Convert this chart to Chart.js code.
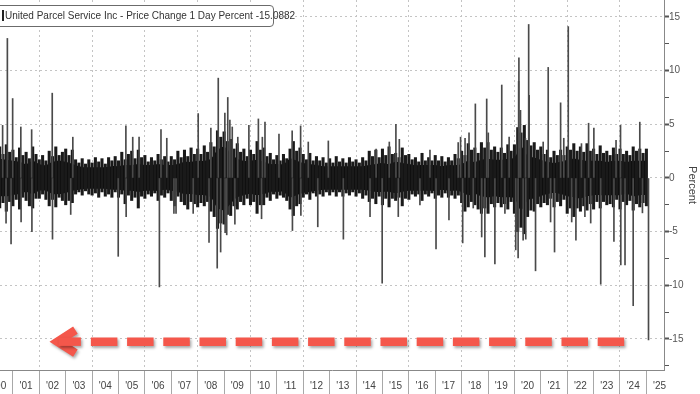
<!DOCTYPE html>
<html>
<head>
<meta charset="utf-8">
<script src="https://cdn.jsdelivr.net/npm/chart.js@4.4.1/dist/chart.umd.min.js"></script>
<style>
  html, body { margin: 0; padding: 0; background: #fff; }
  #wrap { position: relative; width: 700px; height: 394px; overflow: hidden; }
  #legend-box {
    position: absolute; left: -5px; top: 5px; width: 279px; height: 22px;
    box-sizing: border-box; border: 1px solid #6b6b6b; border-radius: 4px;
    background: #fff; color: #333; white-space: nowrap;
    font: 10px "Liberation Sans", Arial, sans-serif; line-height: 20px; padding-left: 6px;
  }
  #legend-box .swatch { display: inline-block; width: 2px; height: 11px; background: #222; vertical-align: -2px; margin-right: 1px; }
</style>
</head>
<body>
<div id="wrap">
  <canvas id="chart" width="700" height="394"></canvas>
  <div id="legend-box"><span class="swatch"></span>United Parcel Service Inc - Price Change 1 Day Percent -15.0882</div>
</div>
<script>
// ---- data ----
// year labels on the bottom axis
const yearLabels = ["'00", "'01", "'02", "'03", "'04", "'05", "'06", "'07", "'08", "'09", "'10", "'11", "'12",
    "'13", "'14", "'15", "'16", "'17", "'18", "'19", "'20", "'21", "'22", "'23", "'24", "'25"];
const yTicks = [-17.5, -15, -12.5, -10, -7.5, -5, -2.5, 0, 2.5, 5, 7.5, 10, 12.5, 15];
const yMajor = [-15, -10, -5, 0, 5, 10, 15];

// dense band: upper / lower edge of the daily moves, one slot every 1/8 year from mid 2000
const slotStart = 2000.5;
const slotStep = 0.125;
const fringeHigh = [
    2.9, 2.2, 3.1, 2.4,
    2.6, 1.9, 2.8, 2.1, 2.4, 1.8, 2.9, 2.2,   // 2001
    1.7, 2.1, 1.6, 2.5, 2.0, 2.9, 2.1, 2.4,   // 2002
    2.7, 2.1, 2.6, 1.7, 1.4, 1.8, 1.3, 1.7,   // 2003
    1.4, 1.9, 1.5, 1.8, 1.3, 1.9, 1.6, 2.0,   // 2004
    1.6, 2.4, 1.7, 2.2, 2.5, 1.8, 2.6, 1.9,   // 2005
    2.1, 1.5, 1.9, 1.6, 2.2, 1.7, 2.0, 1.5,   // 2006
    2.0, 1.7, 2.5, 1.9, 2.6, 2.0, 2.8, 2.2,   // 2007
    2.7, 2.2, 3.0, 2.4, 3.3, 2.9, 4.4, 3.8,   // 2008
    4.3, 3.4, 3.6, 2.7, 3.2, 2.4, 2.7, 2.0,   // 2009
    2.6, 2.2, 3.4, 2.6, 2.8, 2.0, 2.3, 1.7,   // 2010
    2.1, 1.6, 2.2, 1.8, 2.7, 3.4, 2.5, 2.8,   // 2011
    2.2, 1.7, 2.3, 1.6, 2.0, 1.6, 1.9, 1.4,   // 2012
    1.8, 1.4, 2.0, 1.5, 1.8, 1.4, 1.9, 1.5,   // 2013
    1.7, 1.4, 1.9, 1.6, 2.5, 2.0, 2.6, 1.9,   // 2014
    2.7, 2.1, 2.9, 2.2, 2.3, 1.9, 2.8, 2.1,   // 2015
    2.2, 1.7, 1.9, 1.5, 2.3, 1.6, 1.9, 1.6,   // 2016
    2.1, 1.6, 2.0, 1.5, 1.9, 1.6, 2.2, 1.8,   // 2017
    2.5, 2.1, 3.2, 2.6, 2.8, 2.3, 3.3, 2.8,   // 2018
    3.3, 2.6, 2.9, 2.4, 2.8, 2.3, 3.1, 2.5,   // 2019
    3.1, 4.7, 4.2, 4.9, 3.5, 3.0, 3.3, 2.6,   // 2020
    2.9, 2.2, 2.6, 1.9, 2.5, 2.1, 2.6, 2.1,   // 2021
    2.9, 2.6, 3.2, 2.5, 2.9, 2.4, 3.2, 2.5,   // 2022
    2.7, 2.2, 3.0, 2.3, 2.5, 2.1, 2.8, 2.2,   // 2023
    2.7, 2.2, 2.5, 2.1, 2.9, 2.5, 2.7, 2.3,   // 2024
    2.7
];
const fringeLow = [
    -2.8, -2.3, -3.1, -2.2,
    -2.6, -2.0, -2.9, -1.8, -2.1, -2.6, -2.8, -1.9,   // 2001
    -1.9, -1.5, -2.0, -2.6, -2.0, -2.7, -1.8, -2.1,   // 2002
    -2.5, -2.1, -2.3, -1.5, -1.3, -1.6, -1.2, -1.5,   // 2003
    -1.6, -1.4, -1.8, -1.3, -1.7, -1.5, -1.8, -1.3,   // 2004
    -1.8, -1.5, -2.4, -1.6, -2.1, -1.8, -2.8, -1.7,   // 2005
    -1.9, -1.5, -1.7, -1.4, -2.1, -1.6, -1.8, -1.4,   // 2006
    -2.1, -2.6, -1.7, -2.2, -2.5, -2.9, -2.2, -2.4,   // 2007
    -2.7, -2.3, -2.6, -2.2, -3.1, -3.6, -4.7, -4.2,   // 2008
    -4.3, -3.4, -3.5, -2.6, -2.9, -2.2, -2.5, -1.9,   // 2009
    -2.5, -2.2, -3.3, -2.5, -2.5, -1.8, -2.1, -1.5,   // 2010
    -1.9, -1.6, -1.8, -2.1, -2.9, -3.5, -2.6, -2.4,   // 2011
    -1.8, -1.5, -2.0, -1.4, -1.7, -1.5, -1.7, -1.3,   // 2012
    -1.6, -1.3, -1.7, -1.3, -1.7, -1.4, -1.6, -1.3,   // 2013
    -1.7, -1.4, -1.9, -1.6, -2.2, -1.9, -2.4, -1.7,   // 2014
    -2.5, -1.9, -2.7, -1.9, -2.1, -1.8, -2.6, -1.9,   // 2015
    -2.0, -1.5, -1.7, -1.5, -2.1, -1.5, -1.7, -1.4,   // 2016
    -1.9, -1.6, -1.8, -1.4, -1.8, -1.6, -1.9, -1.6,   // 2017
    -2.3, -3.1, -2.7, -2.2, -2.5, -2.9, -3.3, -2.8,   // 2018
    -3.3, -2.4, -2.7, -2.3, -2.7, -2.4, -2.9, -2.2,   // 2019
    -3.3, -5.0, -4.6, -5.2, -3.6, -3.0, -3.1, -2.4,   // 2020
    -2.7, -2.3, -2.5, -1.9, -2.7, -2.2, -2.6, -2.0,   // 2021
    -3.3, -2.8, -3.6, -2.8, -3.1, -2.6, -3.0, -2.4,   // 2022
    -2.9, -2.2, -2.8, -2.2, -2.5, -2.4, -2.7, -2.0,   // 2023
    -2.9, -2.2, -2.5, -2.1, -3.0, -2.4, -2.7, -2.3,   // 2024
    -2.6
];

// solid core of the band, one point every quarter year from mid 2000
const coreStart = 2000.5;
const coreStep = 0.25;
const coreHigh = [
    1.8, 1.7,
    1.6, 1.5, 1.3, 1.6,  1.3, 1.2, 1.5, 1.6,  1.5, 1.3, 1.1, 1.0,  1.0, 1.0, 1.0, 1.1,   // 01-04
    1.1, 1.2, 1.2, 1.3,  1.2, 1.2, 1.3, 1.2,  1.2, 1.3, 1.5, 1.5,  1.6, 1.6, 1.8, 2.6,   // 05-08
    2.9, 2.3, 1.8, 1.6,  1.6, 1.7, 1.5, 1.3,  1.3, 1.3, 1.8, 1.6,  1.4, 1.3, 1.2, 1.1,   // 09-12
    1.1, 1.1, 1.1, 1.1,  1.1, 1.1, 1.2, 1.3,  1.4, 1.3, 1.5, 1.4,  1.3, 1.2, 1.2, 1.2,   // 13-16
    1.2, 1.1, 1.2, 1.2,  1.3, 1.6, 1.5, 1.7,  1.8, 1.7, 1.7, 1.8,  1.9, 2.9, 2.1, 1.9,   // 17-20
    1.7, 1.5, 1.4, 1.5,  1.7, 1.8, 1.7, 1.6,  1.6, 1.6, 1.5, 1.6,  1.6, 1.5, 1.6, 1.6,   // 21-24
    1.6
];
const coreLow = [
    -1.7, -1.7,
    -1.6, -1.5, -1.3, -1.5,  -1.2, -1.2, -1.5, -1.5,  -1.4, -1.2, -1.1, -1.0,  -1.0, -1.0, -1.0, -1.1,
    -1.1, -1.2, -1.2, -1.3,  -1.2, -1.2, -1.2, -1.1,  -1.2, -1.3, -1.5, -1.5,  -1.6, -1.6, -1.8, -2.8,
    -3.0, -2.4, -1.8, -1.6,  -1.5, -1.6, -1.5, -1.3,  -1.3, -1.3, -1.8, -1.6,  -1.4, -1.3, -1.2, -1.1,
    -1.1, -1.1, -1.1, -1.1,  -1.1, -1.1, -1.2, -1.3,  -1.3, -1.3, -1.4, -1.3,  -1.2, -1.2, -1.2, -1.2,
    -1.2, -1.1, -1.2, -1.2,  -1.3, -1.6, -1.5, -1.7,  -1.8, -1.7, -1.8, -1.8,  -1.9, -3.0, -2.1, -1.9,
    -1.7, -1.5, -1.4, -1.5,  -1.7, -1.8, -1.9, -1.7,  -1.6, -1.6, -1.6, -1.6,  -1.6, -1.5, -1.7, -1.6,
    -1.6
];

// single big days that stick out of the band
const spikeDates = [
    2000.61, 2000.74, 2000.79, 2000.93, 2000.99, 2001.30, 2001.31, 2001.71, 2001.72, 2002.49,
    2002.50, 2003.19, 2003.27, 2004.99, 2005.28, 2005.29, 2005.54, 2005.78, 2006.55, 2006.61,
    2006.83, 2007.10, 2007.18, 2007.83, 2008.02, 2008.43, 2008.50, 2008.74, 2008.78, 2008.87,
    2009.03, 2009.04, 2009.10, 2009.14, 2009.22, 2009.31, 2009.41, 2009.52, 2009.94, 2010.30,
    2010.42, 2010.45, 2010.55, 2011.08, 2011.58, 2011.59, 2011.90, 2011.91, 2012.19, 2012.55,
    2012.95, 2013.52, 2014.53, 2014.76, 2014.99, 2015.26, 2015.51, 2015.60, 2015.64, 2016.42,
    2016.80, 2017.03, 2017.52, 2017.87, 2017.96, 2018.04, 2018.13, 2018.28, 2018.44, 2018.52,
    2018.76, 2018.88, 2018.95, 2019.01, 2019.26, 2019.52, 2019.64, 2019.80, 2020.05, 2020.14,
    2020.16, 2020.17, 2020.23, 2020.33, 2020.42, 2020.43, 2020.54, 2020.56, 2020.80, 2021.09,
    2021.28, 2021.37, 2021.52, 2021.75, 2021.87, 2022.04, 2022.17, 2022.33, 2022.54, 2022.67,
    2022.81, 2022.89, 2023.01, 2023.27, 2023.77, 2023.85, 2024.02, 2024.03, 2024.19, 2024.50,
    2024.75, 2024.85, 2025.08
];
const spikeValues = [
    4.9, -4.2, 13.0, -6.15, 7.4, 4.75, -4.1, 4.5, -5.0, 7.9,
    -5.7, -3.4, 3.8, -7.3, 4.85, -3.6, 3.8, 3.8, -10.15, 4.5,
    3.7, -3.3, -3.3, -3.3, 6.0, -6.0, 4.65, -8.4, 9.3, -6.9,
    6.05, -5.1, -5.3, 7.5, 5.4, 4.75, -4.3, 3.8, 4.9, 5.5,
    -3.8, 3.8, 5.2, 4.1, 4.4, -4.9, 4.85, -3.5, 3.35, -4.55,
    3.45, -5.7, -3.6, 2.7, -9.8, 3.35, 5.0, -3.6, 3.6, -2.5,
    2.6, -6.6, -3.9, 3.3, 3.8, -6.05, 3.7, 4.2, -2.8, 6.9,
    -5.5, -7.35, 7.36, 4.2, -8.0, 8.66, -3.3, 3.8, -6.7, -7.45,
    9.0, 11.2, 6.3, -5.8, 3.7, -5.7, 14.3, 7.7, -8.65, 3.35,
    10.3, -4.1, -6.9, 7.0, 3.7, 14.1, -4.1, -5.8, 3.2, -3.6,
    5.1, -4.2, 4.65, -9.9, -5.9, 3.5, 4.9, -8.1, -8.1, -11.9,
    5.2, -3.25, -15.0882
];

// red arrow along the -15 line (annotation)
const arrowLevel = -15.25;
const arrowFrom = 2002.42;
const arrowTo = 2024.34;

// ---- build datasets ----
const fringeData = fringeHigh.map((hi, i) => ({ x: slotStart + i * slotStep, y: [fringeLow[i], hi] }));
const coreHighData = coreHigh.map((v, i) => ({ x: coreStart + i * coreStep, y: v }));
const coreLowData = coreLow.map((v, i) => ({ x: coreStart + i * coreStep, y: v }));
const spikeData = spikeDates.map((d, i) => ({ x: d, y: spikeValues[i] }));

const arrowPlugin = {
    id: 'redArrow',
    afterDatasetsDraw(chart) {
        const { ctx, scales: { x, y } } = chart;
        const yp = y.getPixelForValue(arrowLevel);
        const tip = x.getPixelForValue(arrowFrom);
        const end = x.getPixelForValue(arrowTo);
        ctx.save();
        ctx.strokeStyle = '#f4574b';
        ctx.lineWidth = 8.5;
        ctx.shadowColor = 'rgba(0,0,0,0.35)';
        ctx.shadowBlur = 3;
        ctx.shadowOffsetX = 1.5;
        ctx.shadowOffsetY = 2;
        ctx.lineJoin = 'miter';
        ctx.lineCap = 'butt';
        // head
        ctx.beginPath();
        ctx.moveTo(tip + 25, yp - 11.5);
        ctx.lineTo(tip + 7, yp);
        ctx.lineTo(tip + 25, yp + 11.5);
        ctx.stroke();
        // short solid piece of the shaft
        ctx.beginPath();
        ctx.moveTo(tip + 8, yp);
        ctx.lineTo(tip + 30.5, yp);
        ctx.stroke();
        // dashes
        ctx.setLineDash([26.5, 9.7]);
        ctx.beginPath();
        ctx.moveTo(tip + 40.5, yp);
        ctx.lineTo(end, yp);
        ctx.stroke();
        ctx.restore();
    }
};

const tickFont = { family: '"Liberation Sans", Arial, sans-serif', size: 10 };

new Chart(document.getElementById('chart'), {
    type: 'bar',
    data: {
        datasets: [
            {
                type: 'line',
                data: coreHighData,
                borderWidth: 0,
                pointRadius: 0,
                tension: 0.3,
                backgroundColor: '#000',
                fill: '+1',
                order: 3
            },
            {
                type: 'line',
                data: coreLowData,
                borderWidth: 0,
                pointRadius: 0,
                tension: 0.3,
                backgroundColor: '#000',
                fill: false,
                order: 3
            },
            {
                data: fringeData,
                backgroundColor: '#1a1a1a',
                barThickness: 2.4,
                grouped: false,
                order: 2
            },
            {
                data: spikeData,
                backgroundColor: '#4a4a4a',
                barThickness: 1,
                grouped: false,
                order: 1
            }
        ]
    },
    options: {
        responsive: false,
        animation: false,
        layout: { padding: 0 },
        plugins: { legend: { display: false }, tooltip: { enabled: false } },
        scales: {
            x: {
                type: 'linear',
                position: 'bottom',
                offset: false,
                min: 2000.511,
                max: 2025.667,
                afterBuildTicks: (scale) => {
                    const ticks = [];
                    for (let yr = 2000; yr <= 2026; yr++) {
                        [yr, yr + 0.5].forEach(v => {
                            if (v >= scale.min - 0.02 && v <= scale.max) ticks.push({ value: v });
                        });
                    }
                    scale.ticks = ticks;
                },
                afterFit: (scale) => {
                    scale.height = 24;
                    scale.paddingLeft = 0;
                    scale.paddingRight = 0;
                },
                ticks: {
                    autoSkip: false,
                    maxRotation: 0,
                    padding: -14,
                    color: '#444',
                    font: tickFont,
                    callback: (value) => (value % 1 === 0.5) ? yearLabels[Math.floor(value) - 2000] : ''
                },
                grid: {
                    offset: false,
                    color: (ctx) => (ctx.tick && ctx.tick.value % 2 === 0) ? '#c4c4c4' : 'rgba(0,0,0,0)',
                    tickColor: (ctx) => (ctx.tick && ctx.tick.value % 1 === 0) ? '#a8a8a8' : 'rgba(0,0,0,0)',
                    tickLength: 24,
                    lineWidth: 1
                },
                border: { display: true, color: '#888', dash: [2, 3] }
            },
            y: {
                type: 'linear',
                position: 'right',
                min: -17.89,
                max: 16.58,
                afterBuildTicks: (scale) => {
                    scale.ticks = yTicks.map(v => ({ value: v }));
                },
                afterFit: (scale) => {
                    scale.width = 36;
                    scale.paddingTop = 0;
                    scale.paddingBottom = 0;
                },
                ticks: {
                    padding: 0,
                    color: '#555',
                    font: tickFont,
                    callback: (value) => yMajor.includes(value) ? String(value) : ''
                },
                grid: {
                    color: (ctx) => (ctx.tick && yMajor.includes(ctx.tick.value)) ? '#c4c4c4' : 'rgba(0,0,0,0)',
                    tickColor: '#555',
                    tickWidth: (ctx) => (ctx.tick && yMajor.includes(ctx.tick.value)) ? 2 : 1,
                    tickLength: 5,
                    lineWidth: 1
                },
                border: { display: true, color: '#888', dash: [2, 3] },
                title: {
                    display: true,
                    text: 'Percent',
                    color: '#444',
                    font: { family: '"Liberation Sans", Arial, sans-serif', size: 11 },
                    padding: { top: 1, bottom: 0 }
                }
            }
        }
    },
    plugins: [arrowPlugin]
});
</script>
</body>
</html>
